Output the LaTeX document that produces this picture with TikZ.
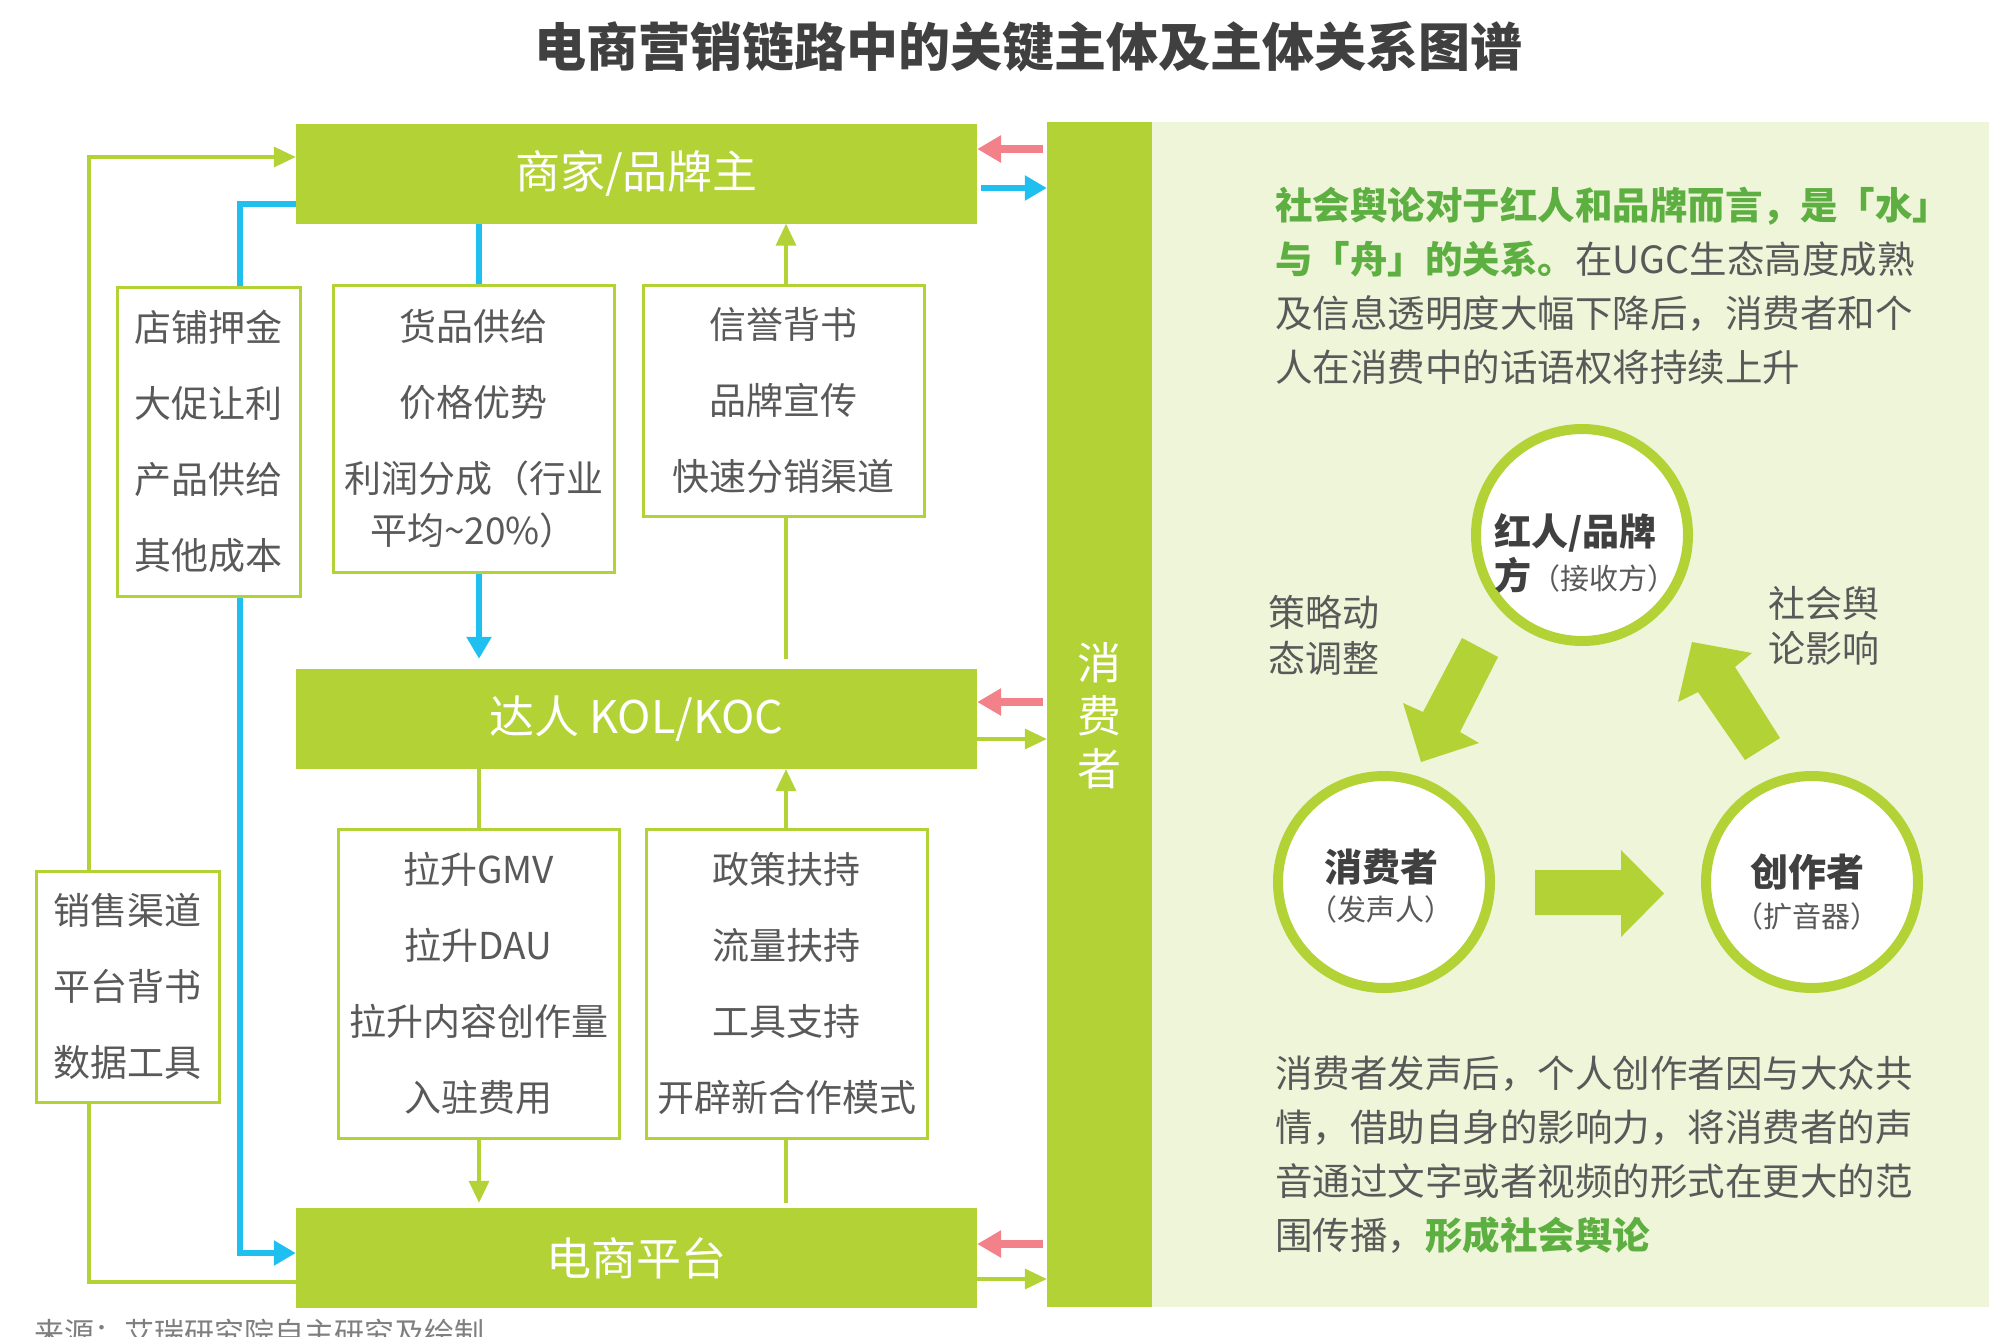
\documentclass[tikz,border=0pt]{standalone}
\usepackage{fontspec}
\setmainfont{Noto Sans CJK SC}
\usetikzlibrary{arrows.meta,calc}
\definecolor{G}{HTML}{B2D235}
\definecolor{LG}{HTML}{EFF5D8}
\definecolor{PK}{HTML}{F2818A}
\definecolor{BL}{HTML}{1FC0F0}
\definecolor{TG}{HTML}{595959}
\definecolor{TD}{HTML}{404040}
\definecolor{DG}{HTML}{5DAF42}
\definecolor{SRC}{HTML}{7F7F7F}
\newcommand\fz[2]{\fontsize{#1}{#2}\selectfont}
\begin{document}
\begin{tikzpicture}[x=1pt,y=-1pt,
  mainbox/.style={fill=G, draw=none, minimum width=681pt, minimum height=100pt, inner sep=0pt, text=white, font=\fz{45}{54}},
  infobox/.style={draw=G, line width=3pt, fill=white, inner sep=0pt, text=TG, font=\fz{37}{76}, align=center},
  circ/.style={circle, draw=G, line width=10pt, fill=white, minimum size=212pt, inner sep=0pt},
  gline/.style={draw=G, line width=3.5pt},
  bline/.style={draw=BL, line width=6pt},
  garr/.style={gline, -{Triangle[length=22pt,width=20pt]}},
  barr/.style={bline, -{Triangle[length=22pt,width=24pt]}},
  parr/.style={draw=PK, line width=8pt, -{Triangle[length=24pt,width=26pt]}},
  gtext/.style={text=TG, inner sep=0pt},
]
\useasboundingbox (0,0) rectangle (1989,1336);
\clip (0,0) rectangle (1989,1336);

% title
\node[text=TD, font=\fz{52}{60}\bfseries] (title) at (1028,47) {电商营销链路中的关键主体及主体关系图谱};

% right panel and consumer bar
\fill[LG] (1152,122) rectangle (1989,1307);
\node[fill=G, minimum width=105pt, minimum height=1185pt, inner sep=0pt] (bar) at (1099.5,714.5) {};
\node[text=white, font=\fz{44}{53}, align=center] (bartext) at (1099.5,716) {消\\费\\者};

% main boxes
\node[mainbox] (shang) at (636.5,173.5) {商家/品牌主};
\node[mainbox] (dr) at (636.5,719) {达人 KOL/KOC};
\node[mainbox] (ds) at (636.5,1258) {电商平台};

% coordinates for vertical lines
\coordinate (xb) at (479,0);
\coordinate (xg) at (786,0);
\coordinate (xbl) at (240,0);
\coordinate (xgl) at (89,0);

% info boxes
\node[infobox, minimum width=183pt, minimum height=309pt] (A) at (208.5,441.5) {店铺押金\\大促让利\\产品供给\\其他成本};
\node[infobox, minimum width=281pt, minimum height=287pt, font=\fz{37}{52}] (B) at (473.5,428.5) {货品供给\\[24pt]价格优势\\[24pt]利润分成（行业\\平均\textasciitilde 20\%）};
\node[infobox, minimum width=281pt, minimum height=231pt] (C) at (783.5,400.5) {信誉背书\\品牌宣传\\快速分销渠道};
\node[infobox, minimum width=281pt, minimum height=309pt] (D) at (478.5,983.5) {拉升GMV\\拉升DAU\\拉升内容创作量\\入驻费用};
\node[infobox, minimum width=281pt, minimum height=309pt] (E) at (786.5,983.5) {政策扶持\\流量扶持\\工具支持\\开辟新合作模式};
\node[infobox, minimum width=183pt, minimum height=231pt] (F) at (127.5,986.5) {销售渠道\\平台背书\\数据工具};

% left connectors
\draw[bline] ([yshift=20pt]shang.south west) -| (xbl |- A.north);
\draw[barr] (xbl |- A.south) |- ([yshift=5pt]ds.west);
\draw[garr] (xgl |- F.north) |- ([yshift=16.5pt]shang.west);
\draw[gline] (xgl |- F.south) |- ([yshift=-24pt]ds.west);
\draw[bline] (xb |- shang.south) -- (xb |- B.north);
\draw[barr] (xb |- B.south) -- ($(xb |- dr.north)+(0,-10)$);
\draw[garr] (xg |- C.north) -- (xg |- shang.south);
\draw[gline] ($(xg |- dr.north)+(0,-10)$) -- (xg |- C.south);
\draw[gline] (xb |- dr.south) -- (xb |- D.north);
\draw[garr] (xb |- D.south) -- ($(xb |- ds.north)+(0,-5)$);
\draw[gline] ($(xg |- ds.north)+(0,-5)$) -- (xg |- E.south);
\draw[garr] (xg |- E.north) -- (xg |- dr.south);

% right connectors to consumer bar
\draw[parr] ($(bar.west |- 0,149)+(-4,0)$) -- (shang.east |- 0,149);
\draw[barr] ($(shang.east |- 0,188)+(4,0)$) -- (bar.west |- 0,188);
\draw[parr] ($(bar.west |- 0,702)+(-4,0)$) -- (dr.east |- 0,702);
\draw[garr] (dr.east |- 0,739) -- (bar.west |- 0,739);
\draw[parr] ($(bar.west |- 0,1244)+(-4,0)$) -- (ds.east |- 0,1244);
\draw[garr] (ds.east |- 0,1279) -- (bar.west |- 0,1279);

% paragraphs
\begin{scope}[every node/.style={gtext, anchor=base west, font=\fz{37.5}{44}}]
\node (p1) at (1275,219) {\textcolor{DG}{\bfseries 社会舆论对于红人和品牌而言，是「水」}};
\node (p2) at (1275,273) {\textcolor{DG}{\bfseries 与「舟」的关系。}在UGC生态高度成熟};
\node (p3) at (1275,327) {及信息透明度大幅下降后，消费者和个};
\node (p4) at (1275,381) {人在消费中的话语权将持续上升};
\node (q1) at (1275,1087) {消费者发声后，个人创作者因与大众共};
\node (q2) at (1275,1141) {情，借助自身的影响力，将消费者的声};
\node (q3) at (1275,1195) {音通过文字或者视频的形式在更大的范};
\node (q4) at (1275,1249) {围传播，\textcolor{DG}{\bfseries 形成社会舆论}};
\end{scope}

% circles
\node[circ] (ch) at (1582,535) {};
\node[circ] (cc) at (1384,882) {};
\node[circ] (cz) at (1812,882) {};
\node[text=TD, anchor=west, align=left, inner sep=0pt, font=\fz{37}{44}] (cht) at (1494,553) {\bfseries 红人/品牌\\\bfseries 方{\mdseries\color{TG}\fz{29}{44}（接收方）}};
\node[text=TD, align=center, inner sep=0pt, font=\fz{38}{39}] (cct) at (1381,886) {\bfseries 消费者\\{\color{TG}\fz{29}{39}（发声人）}};
\node[text=TD, align=center, inner sep=0pt, font=\fz{38}{41}] (czt) at (1807,892) {\bfseries 创作者\\{\color{TG}\fz{29}{41}（扩音器）}};

% block arrows
\fill[G] (1535,870) -- (1621,870) -- (1621,850) -- (1664,893.5) -- (1621,937) -- (1621,915) -- (1535,915) -- cycle;
\fill[G] (1462,638) -- (1498,657) -- (1460,732) -- (1479,743) -- (1421,762) -- (1403,703) -- (1423,712) -- cycle;
\fill[G] (1692,642) -- (1752,653) -- (1735,667) -- (1780,738) -- (1745,760) -- (1698,692) -- (1678,702) -- cycle;

% labels
\node[gtext, anchor=west, align=left, font=\fz{37}{46}] (lab1) at (1268,635) {策略动\\态调整};
\node[gtext, anchor=west, align=left, font=\fz{37}{45}] (lab2) at (1768,626) {社会舆\\论影响};

% source (cut off at the lower edge, as in the reference)
\node[text=SRC, anchor=west, inner sep=0pt, font=\fz{30}{36}] (src) at (34,1333) {来源：艾瑞研究院自主研究及绘制};
\end{tikzpicture}
\end{document}
